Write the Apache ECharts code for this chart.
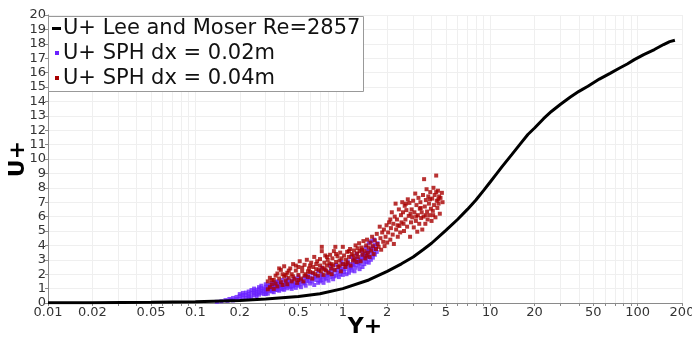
<!DOCTYPE html>
<html><head><meta charset="utf-8">
<script src="https://cdn.jsdelivr.net/npm/echarts@6/dist/echarts.min.js"></script>
<style>html,body{margin:0;padding:0;background:#fff}#c{width:692px;height:338px}</style>
</head><body><div id="c"></div>
<script>
const xLabelValues = [0.01,0.02,0.05,0.1,0.2,0.5,1,2,5,10,20,50,100,200];
const xGridValues = [0.01,0.02,0.03,0.04,0.05,0.06,0.07,0.08,0.09,
  0.1,0.2,0.3,0.4,0.5,0.6,0.7,0.8,0.9,1,2,3,4,5,6,7,8,9,
  10,20,30,40,50,60,70,80,90,100,200];
const yMin = 0, yMax = 20, yStep = 1;

const seriesNames = ['U+ Lee and Moser Re=2857','U+ SPH dx = 0.02m','U+ SPH dx = 0.04m'];

const leeMoser = [[0.01,0.01],[0.02,0.02],[0.05,0.045],[0.1,0.09],[0.2,0.18],[0.3,0.28],[0.5,0.45],[0.7,0.64],[1,1.0],[1.5,1.6],[2,2.2],[2.5,2.72],[3,3.2],[3.5,3.7],[4,4.15],[5,5.05],[6,5.8],[7,6.5],[8,7.15],[9,7.8],[10,8.4],[11,8.95],[12,9.45],[14,10.3],[16,11.05],[18,11.7],[20,12.15],[23,12.8],[26,13.3],[30,13.8],[35,14.3],[40,14.7],[46,15.05],[55,15.55],[65,15.95],[75,16.3],[85,16.6],[95,16.9],[110,17.25],[130,17.6],[150,17.95],[165,18.15],[179,18.25]];

const sph002 = [[0.14,0.08],[0.15,0.12],[0.16,0.2],[0.165,0.15],[0.17,0.28],[0.175,0.22],[0.18,0.35],[0.18,0.18],[0.19,0.42],[0.19,0.27],[0.2,0.5],[0.2,0.3],[0.2,0.62],[0.21,0.4],[0.21,0.7],[0.22,0.55],[0.22,0.36],[0.23,0.8],[0.23,0.48],[0.23,0.62],[0.24,0.9],[0.24,0.42],[0.24,0.7],[0.25,0.55],[0.25,0.85],[0.25,1.0],[0.26,0.62],[0.26,0.48],[0.26,0.78],[0.27,0.95],[0.27,1.1],[0.27,0.58],[0.28,0.7],[0.28,0.85],[0.28,1.2],[0.29,0.62],[0.29,1.0],[0.3,0.75],[0.3,1.3],[0.3,0.9],[0.3,1.12],[0.31,0.65],[0.32,0.85],[0.32,1.05],[0.32,1.25],[0.33,0.95],[0.33,1.4],[0.34,0.75],[0.34,1.15],[0.35,1.3],[0.35,0.9],[0.36,1.05],[0.36,1.5],[0.37,0.85],[0.37,1.2],[0.38,1.38],[0.38,1.0],[0.39,1.6],[0.4,1.1],[0.4,0.92],[0.4,1.28],[0.41,1.45],[0.42,1.02],[0.42,1.65],[0.43,1.2],[0.44,1.36],[0.45,0.98],[0.45,1.55],[0.46,1.15],[0.47,1.72],[0.48,1.3],[0.48,1.05],[0.5,1.45],[0.5,1.2],[0.5,1.85],[0.52,1.1],[0.52,1.62],[0.54,1.35],[0.55,1.75],[0.56,1.2],[0.57,1.5],[0.58,1.9],
[0.6,1.35],[0.6,1.75],[0.62,1.5],[0.62,2.05],[0.64,1.25],[0.65,1.85],[0.66,1.6],[0.68,1.4],[0.68,2.2],[0.7,1.75],[0.7,1.5],[0.72,2.0],[0.72,2.45],[0.74,1.4],[0.75,1.65],[0.76,2.3],[0.78,1.9],[0.8,1.55],[0.8,2.15],[0.82,1.8],[0.82,2.6],[0.84,2.4],[0.85,2.0],[0.86,1.65],[0.88,2.25],[0.9,1.9],[0.9,2.65],[0.92,2.1],[0.94,1.8],[0.95,2.45],[0.97,2.25],[0.98,2.85],[1.0,1.95],[1.0,2.7],[1.0,2.4],[1.02,2.15],[1.05,2.55],[1.06,2.0],[1.08,2.9],[1.1,2.35],[1.1,2.1],[1.12,2.7],[1.14,3.2],[1.15,2.5],[1.15,2.25],[1.18,3.0],[1.2,2.65],[1.2,2.2],[1.22,2.45],[1.24,3.4],[1.25,2.85],[1.25,3.1],[1.28,2.6],[1.3,2.35],[1.3,3.0],[1.32,2.75],[1.34,3.6],[1.35,3.25],[1.36,2.5],[1.38,2.95],[1.4,3.15],[1.4,2.7],[1.42,3.45],[1.43,3.85],[1.45,2.85],[1.45,3.05],[1.48,3.35],[1.5,2.8],[1.5,3.6],[1.5,4.15],[1.52,3.2],[1.55,3.75],[1.55,3.0],[1.56,4.3],[1.58,3.45],[1.6,3.9],[1.6,3.15],[1.62,3.65],[1.63,4.4],[1.65,4.05],[1.65,3.35],[1.68,3.8],[1.7,3.55],[1.72,4.15],
[0.21,0.55],[0.22,0.72],[0.23,0.35],[0.25,0.7],[0.26,0.92],[0.27,0.72],[0.28,1.02],[0.29,0.82],[0.3,0.62],[0.31,1.0],[0.31,1.2],[0.33,0.8],[0.33,1.1],[0.34,1.3],[0.35,1.05],[0.35,1.45],[0.36,0.9],[0.37,1.35],[0.38,1.15],[0.39,0.95],[0.39,1.3],[0.41,1.15],[0.42,1.35],[0.43,1.5],[0.44,1.1],[0.46,1.4],[0.47,1.25],[0.49,1.6],[0.51,1.3],[0.53,1.5],[0.55,1.4],[0.57,1.7],[0.59,1.55],[0.63,1.7],[0.67,1.85],[0.71,1.6],[0.73,1.85],[0.77,1.7],[0.79,2.0],[0.83,2.2],[0.87,1.85],[0.91,2.3],[0.96,2.0],[1.03,2.35],[1.07,2.65],[1.13,2.45],[1.17,2.7],[1.21,2.9],[1.27,2.8],[1.33,3.0],[1.37,3.35],[1.44,3.25],[1.47,3.6]];

const sph004 = [[0.31,0.95],[0.31,1.5],[0.32,1.1],[0.32,1.75],[0.33,1.3],[0.34,1.6],[0.34,0.98],[0.35,1.9],[0.35,1.35],[0.36,1.15],[0.36,2.05],[0.37,1.7],[0.38,1.45],[0.38,2.3],[0.39,1.25],[0.4,1.85],[0.4,2.55],[0.41,1.55],[0.42,2.1],[0.42,1.3],[0.43,1.75],[0.44,2.4],[0.45,1.5],[0.45,2.0],
[0.46,2.7],[0.47,1.65],[0.48,2.25],[0.49,1.4],[0.5,1.95],[0.5,2.5],[0.51,2.9],[0.52,1.7],[0.53,2.2],[0.54,1.5],[0.55,2.65],[0.56,2.0],[0.57,3.0],[0.58,1.8],[0.59,2.4],[0.6,2.15],
[0.61,2.8],[0.62,1.7],[0.63,2.5],[0.64,3.2],[0.65,2.0],[0.66,2.35],[0.67,2.9],[0.68,1.9],[0.7,2.6],[0.7,3.05],[0.71,2.2],[0.72,3.9],[0.72,3.6],[0.73,2.45],[0.74,1.95],[0.75,2.8],[0.76,3.3],[0.77,2.25],[0.78,2.6],[0.79,3.0],[0.8,2.1],
[0.81,2.75],[0.82,3.35],[0.83,2.4],[0.84,2.0],[0.85,3.1],[0.86,2.6],[0.87,3.6],[0.88,2.3],[0.89,3.9],[0.9,2.85],[0.92,3.25],[0.93,2.5],[0.95,2.95],[0.96,3.5],[0.97,2.2],[0.98,3.1],[1.0,2.7],[1.0,3.9],
[1.02,3.3],[1.04,2.5],[1.05,3.0],[1.07,3.55],[1.08,2.8],[1.1,3.2],[1.12,3.75],[1.13,2.6],[1.15,3.4],[1.17,2.95],[1.19,3.65],[1.2,3.1],[1.22,4.0],[1.24,2.85],[1.25,3.45],[1.27,3.2],[1.29,4.15],[1.3,3.6],
[1.32,2.9],[1.34,3.85],[1.36,3.35],[1.38,4.3],[1.4,3.6],[1.42,3.1],[1.44,4.0],[1.46,4.4],[1.48,3.5],[1.5,3.85],[1.52,3.2],[1.54,4.2],[1.56,3.65],[1.58,4.6],[1.6,3.95],
[1.62,3.4],[1.65,4.35],[1.68,3.75],[1.7,4.8],[1.72,4.1],[1.75,3.9],[1.78,5.3],[1.8,4.5],[1.82,3.7],[1.85,4.9],[1.88,4.25],[1.9,5.1],[1.92,3.95],[1.95,4.6],[1.98,5.4],[2.0,4.2],
[2.03,4.9],[2.06,5.6],[2.1,4.4],[2.12,5.2],[2.15,6.3],[2.18,4.75],[2.2,5.5],[2.22,4.1],[2.25,6.0],[2.28,6.9],[2.3,5.1],[2.33,5.8],[2.36,4.6],[2.4,6.5],[2.42,5.35],[2.45,4.9],[2.48,6.1],[2.5,5.6],
[2.53,7.0],[2.56,6.3],[2.6,5.0],[2.63,6.75],[2.66,5.8],[2.7,6.45],[2.73,5.3],[2.76,7.2],[2.8,6.05],[2.83,6.95],[2.86,4.6],[2.9,5.6],[2.93,6.5],[2.96,5.95],[3.0,7.1],
[3.03,5.25],[3.06,6.3],[3.1,7.6],[3.13,5.7],[3.16,6.8],[3.2,4.95],[3.23,6.1],[3.26,7.3],[3.3,5.5],[3.33,6.55],[3.36,7.0],[3.4,5.9],[3.43,6.3],[3.46,5.1],[3.5,7.5],
[3.53,6.0],[3.56,8.6],[3.6,6.7],[3.63,5.5],[3.66,7.15],[3.7,7.9],[3.73,6.35],[3.76,5.8],[3.8,7.4],[3.84,6.9],[3.88,6.1],[3.92,7.7],[3.96,6.55],[4.0,5.7],
[4.04,7.25],[4.08,6.4],[4.12,8.0],[4.16,6.8],[4.2,7.5],[4.25,5.95],[4.3,8.85],[4.34,7.1],[4.38,6.6],[4.42,7.8],[4.46,6.9],[4.5,7.4],[4.55,6.2],[4.6,7.3],[4.7,7.65],[4.75,7.0],
[0.33,1.6],[0.37,2.4],[0.39,2.0],[0.41,1.95],[0.43,2.25],[0.46,1.85],[0.48,2.6],[0.5,1.6],[0.53,2.45],[0.55,1.9],[0.58,2.2],[0.6,2.6],[0.63,2.1],[0.66,2.7],[0.69,2.3],[0.75,2.35],[0.78,3.2],[0.84,2.7],[0.9,3.4],[0.95,2.6],[1.05,2.7],[1.1,3.6],[1.18,3.3],[1.26,3.8],[1.35,3.7],[1.45,3.3],[2.1,5.8],[2.35,5.4],[2.58,5.5],[2.68,6.9],[2.88,6.2],[3.15,6.0],[3.38,6.6],[3.65,6.1],[3.9,7.2],[4.1,6.1],[4.3,7.7],[4.45,7.2]];

const FONT = 'DejaVu Sans';
const colors = ['#000000', '#6a22ff', '#a80000'];

const chart = echarts.init(document.getElementById('c'), null, {renderer: 'canvas'});
const lg = v => Math.log10(v);
const labelLogs = xLabelValues.map(lg);

const option = {
  animation: false,
  backgroundColor: '#ffffff',
  grid: {left: 48, right: 10, top: 15, bottom: 35, containLabel: false, outerBoundsMode: 'none'},
  xAxis: [
    {
      type: 'log', logBase: 10,
      min: xLabelValues[0], max: xLabelValues[xLabelValues.length - 1],
      axisLine: {show: false}, axisTick: {show: false}, axisLabel: {show: false},
      splitLine: {show: false}, minorSplitLine: {show: false}
    },
    {
      type: 'value', position: 'bottom', offset: 0,
      min: lg(xLabelValues[0]), max: lg(xLabelValues[xLabelValues.length - 1]),
      axisLine: {show: true, onZero: false, lineStyle: {color: '#8a8a8a', width: 1}},
      axisTick: {show: true, inside: false, length: 3, customValues: xGridValues.map(lg), lineStyle: {color: '#8a8a8a'}},
      axisLabel: {
        show: true, margin: 3, fontFamily: FONT, fontSize: 13, color: '#333',
        customValues: labelLogs,
        formatter: v => {
          let best = 0, bd = Infinity;
          labelLogs.forEach((l, i) => { const d = Math.abs(l - v); if (d < bd) { bd = d; best = i; } });
          return String(xLabelValues[best]);
        }
      },
      splitLine: {show: true, lineStyle: {color: '#efefef', width: 1}},
      name: 'Y+', nameLocation: 'middle', nameGap: 13, nameMoveOverlap: false,
      nameTextStyle: {fontFamily: FONT, fontSize: 22, fontWeight: 'bold', color: '#000', verticalAlign: 'top'}
    }
  ],
  yAxis: {
    type: 'value', min: yMin, max: yMax, interval: yStep,
    axisLine: {show: true, onZero: false, lineStyle: {color: '#8a8a8a', width: 1}},
    axisTick: {show: true, inside: false, length: 3, lineStyle: {color: '#8a8a8a'}},
    axisLabel: {margin: 2, fontFamily: FONT, fontSize: 13, color: '#333'},
    splitLine: {show: true, lineStyle: {color: '#efefef', width: 1}},
    name: 'U+', nameLocation: 'middle', nameRotate: 90, nameGap: 19, nameMoveOverlap: false,
    nameTextStyle: {fontFamily: FONT, fontSize: 22, fontWeight: 'bold', color: '#000'}
  },
  series: [
    {
      name: seriesNames[1], type: 'scatter', xAxisIndex: 0, data: sph002,
      symbol: 'rect', symbolSize: 4, itemStyle: {color: colors[1]}, z: 2
    },
    {
      name: seriesNames[2], type: 'scatter', xAxisIndex: 0, data: sph004,
      symbol: 'rect', symbolSize: 4, itemStyle: {color: colors[2]}, z: 3
    },
    {
      name: seriesNames[0], type: 'line', xAxisIndex: 0, data: leeMoser,
      showSymbol: false, symbol: 'none', smooth: false,
      lineStyle: {color: colors[0], width: 3}, z: 4
    }
  ],
  graphic: [
    {type: 'rect', left: 48, top: 16, z: 100,
     shape: {width: 315, height: 75},
     style: {fill: '#ffffff', stroke: '#999999', lineWidth: 1}},
    {type: 'rect', left: 52, top: 27, z: 101, shape: {width: 9, height: 3}, style: {fill: colors[0]}},
    {type: 'text', left: 63, top: 16, z: 101,
     style: {text: seriesNames[0], font: '21px "DejaVu Sans"', fill: '#111', lineHeight: 25}},
    {type: 'rect', left: 55, top: 51, z: 101, shape: {width: 4, height: 4}, style: {fill: colors[1]}},
    {type: 'text', left: 63, top: 41, z: 101,
     style: {text: seriesNames[1], font: '21px "DejaVu Sans"', fill: '#111', lineHeight: 25}},
    {type: 'rect', left: 55, top: 76, z: 101, shape: {width: 4, height: 4}, style: {fill: colors[2]}},
    {type: 'text', left: 63, top: 66, z: 101,
     style: {text: seriesNames[2], font: '21px "DejaVu Sans"', fill: '#111', lineHeight: 25}}
  ]
};
chart.setOption(option);
</script>
</body></html>
